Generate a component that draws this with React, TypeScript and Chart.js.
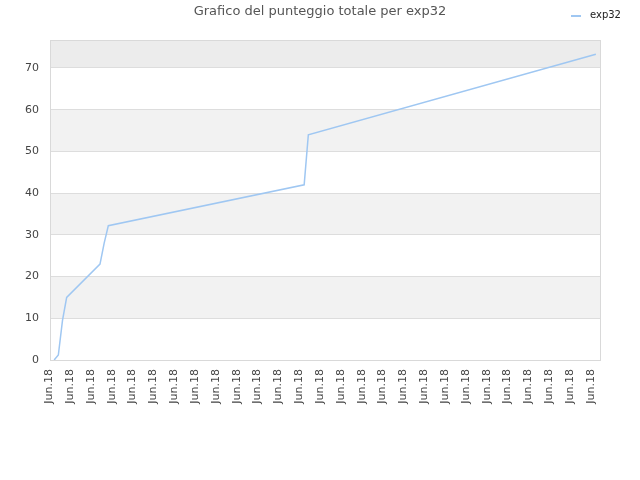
import { useEffect, useRef } from "react"
import { Chart, registerables } from "chart.js"

Chart.register(...registerables)

// Score samples (day index -> cumulative score); straight stretches between bends
const dayIndex = [0, 1, 2, 3, 11, 12, 13, 60, 61, 130]
const scores = [0, 1.2, 9.5, 15, 23, 28, 32.2, 42, 54, 73.3]

// One label every 5 days
const tickIndex = [0, 5, 10, 15, 20, 25, 30, 35, 40, 45, 50, 55, 60, 65, 70, 75, 80, 85, 90, 95, 100, 105, 110, 115, 120, 125, 130]
const tickLabels = tickIndex.map(() => "Jun.18")

const seriesName = "exp32"
const chartTitle = "Grafico del punteggio totale per exp32"

const FONT = "'DejaVu Sans', sans-serif"

const decorPlugin = {
  id: "decor",
  beforeDraw(chart: Chart) {
    const { ctx, chartArea, scales } = chart
    const y = scales.y
    const { left, right, top } = chartArea
    ctx.save()
    const bands = [0, 10, 20, 30, 40, 50, 60, 70]
    bands.forEach((v, i) => {
      if (i % 2 === 0) return
      const y1 = y.getPixelForValue(v)
      const y2 = i === bands.length - 1 ? top : y.getPixelForValue(bands[i + 1])
      ctx.fillStyle = "#f2f2f2"
      ctx.fillRect(left, y2, right - left, y1 - y2)
    })
    // top strip above the last tick
    const y70 = y.getPixelForValue(70)
    ctx.fillStyle = "#ececec"
    ctx.fillRect(left, top, right - left, y70 - top)
    ctx.restore()
  },
  afterDraw(chart: Chart) {
    const { ctx, chartArea } = chart
    const { left, right, top, bottom } = chartArea
    ctx.save()
    ctx.strokeStyle = "#d9d9d9"
    ctx.lineWidth = 1
    ctx.strokeRect(left + 0.5, top + 0.5, right - left, bottom - top)

    ctx.fillStyle = "#555555"
    ctx.font = `13px ${FONT}`
    ctx.textAlign = "center"
    ctx.textBaseline = "middle"
    ctx.fillText(chartTitle, 320, 12)

    ctx.strokeStyle = "#9fc7f2"
    ctx.lineWidth = 2
    ctx.beginPath()
    ctx.moveTo(571, 16)
    ctx.lineTo(581, 16)
    ctx.stroke()
    ctx.fillStyle = "#222222"
    ctx.font = `10px ${FONT}`
    ctx.textAlign = "left"
    ctx.fillText(seriesName, 590, 15)
    ctx.restore()
  },
}

export default function App() {
  const chartRef = useRef<HTMLCanvasElement>(null)
  const chartInstance = useRef<Chart | null>(null)

  useEffect(() => {
    if (!chartRef.current) return
    if (chartInstance.current) chartInstance.current.destroy()

    const ctx = chartRef.current.getContext("2d")
    if (!ctx) return

    chartInstance.current = new Chart(ctx, {
      type: "line",
      data: {
        datasets: [
          {
            label: seriesName,
            data: dayIndex.map((d, i) => ({ x: d, y: scores[i] })),
            borderColor: "#9fc7f2",
            borderWidth: 1.5,
            pointRadius: 0,
            tension: 0,
            fill: false,
          },
        ],
      },
      options: {
        animation: false,
        responsive: true,
        maintainAspectRatio: false,
        layout: { padding: { top: 40, right: 40, left: 0, bottom: 0 } },
        plugins: {
          legend: { display: false },
          title: { display: false },
          tooltip: { enabled: false },
        },
        scales: {
          x: {
            type: "linear",
            min: -1,
            max: 131,
            afterBuildTicks: (scale: any) => {
              scale.ticks = tickIndex.map((v) => ({ value: v }))
            },
            afterFit: (scale: any) => {
              scale.height = 120
            },
            grid: { display: false, drawTicks: false },
            border: { display: false },
            ticks: {
              autoSkip: false,
              minRotation: 90,
              maxRotation: 90,
              padding: 9,
              labelOffset: -5,
              color: "#444444",
              font: { family: FONT, size: 11 },
              callback: (value: any) => {
                const k = tickIndex.indexOf(Number(value))
                return k >= 0 ? tickLabels[k] : ""
              },
            },
          },
          y: {
            min: 0,
            max: 76.7,
            afterBuildTicks: (scale: any) => {
              scale.ticks = [0, 10, 20, 30, 40, 50, 60, 70].map((v) => ({ value: v }))
            },
            afterFit: (scale: any) => {
              scale.width = 50
            },
            grid: { color: "#dddddd", drawTicks: false },
            border: { display: false },
            ticks: {
              padding: 11,
              color: "#444444",
              font: { family: FONT, size: 11 },
            },
          },
        },
      },
      plugins: [decorPlugin],
    })

    return () => {
      if (chartInstance.current) {
        chartInstance.current.destroy()
        chartInstance.current = null
      }
    }
  }, [])

  return (
    <div style={{ position: "fixed", left: 0, top: 0, width: 640, height: 480, background: "#ffffff" }}>
      <canvas ref={chartRef} />
    </div>
  )
}
